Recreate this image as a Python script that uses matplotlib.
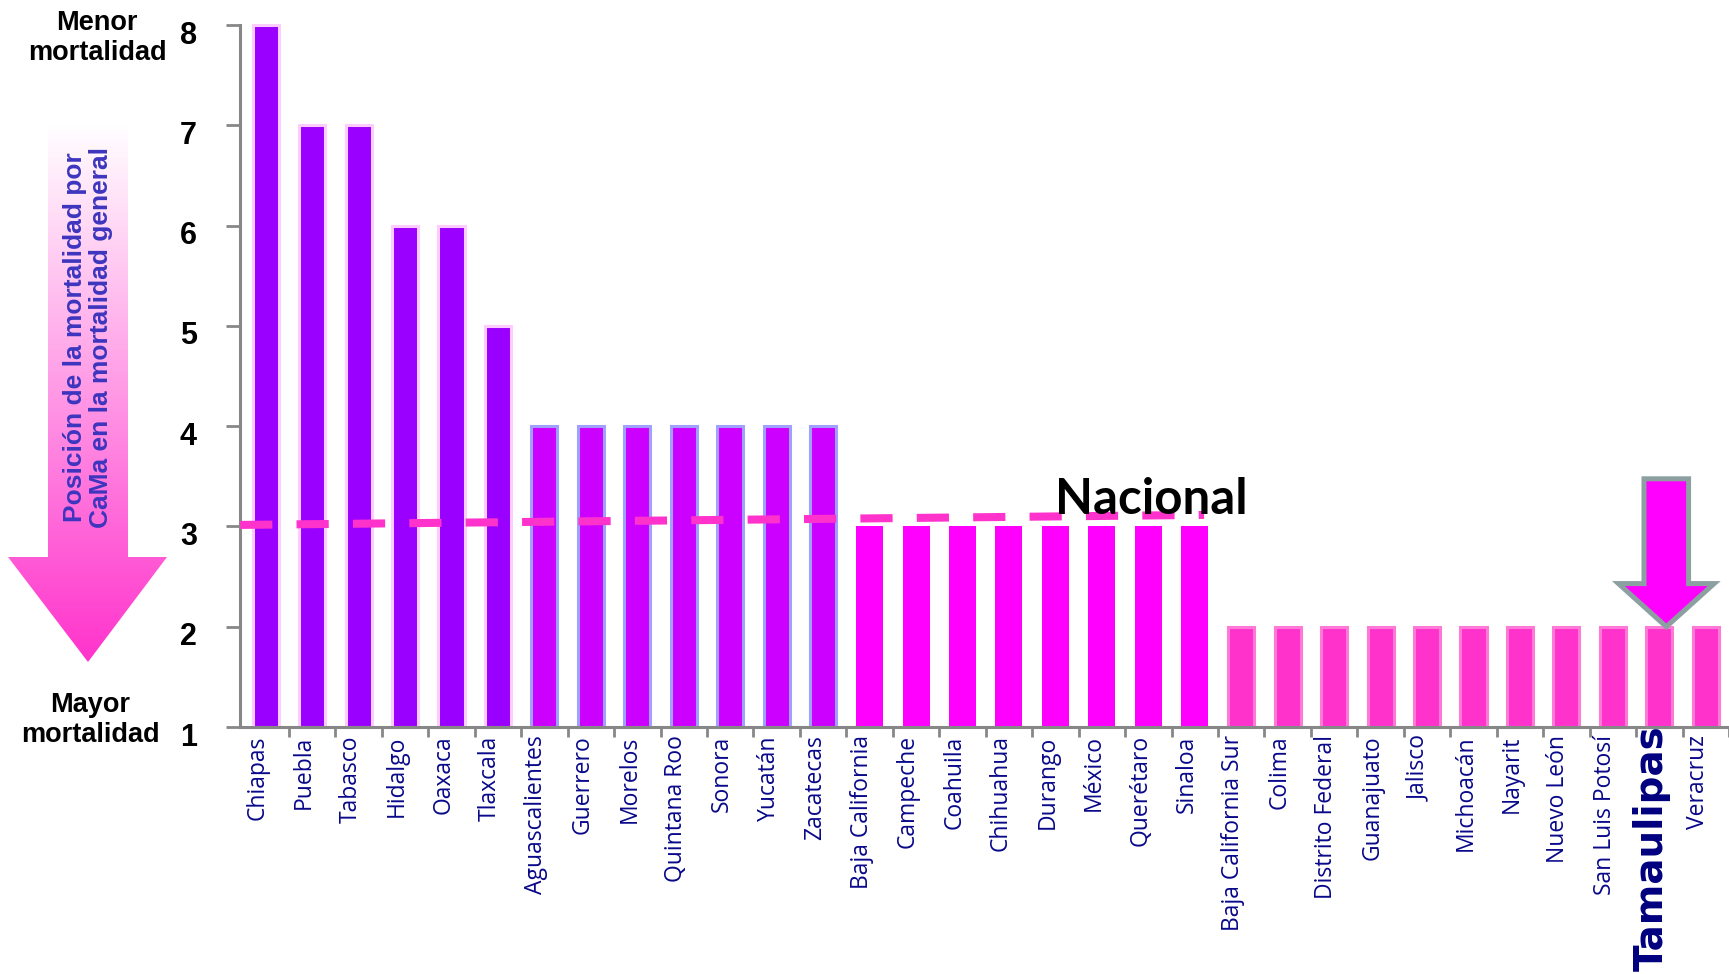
import numpy as np
import matplotlib.pyplot as plt
from matplotlib.colors import LinearSegmentedColormap
from matplotlib.patches import Polygon
from matplotlib.transforms import ScaledTranslation

# posicion de la mortalidad por CaMa en la mortalidad general, por entidad
estados = ["Chiapas", "Puebla", "Tabasco", "Hidalgo", "Oaxaca", "Tlaxcala",
           "Aguascalientes", "Guerrero", "Morelos", "Quintana Roo", "Sonora",
           "Yucatán", "Zacatecas", "Baja California", "Campeche", "Coahuila",
           "Chihuahua", "Durango", "México", "Querétaro", "Sinaloa",
           "Baja California Sur", "Colima", "Distrito Federal", "Guanajuato",
           "Jalisco", "Michoacán", "Nayarit", "Nuevo León", "San Luis Potosí",
           "Tamaulipas", "Veracruz"]
posicion = [8, 7, 7, 6, 6, 5,
            4, 4, 4, 4, 4, 4, 4,
            3, 3, 3, 3, 3, 3, 3, 3,
            2, 2, 2, 2, 2, 2, 2, 2, 2, 2, 2]
# linea nacional (inicio en el eje, fin en Sinaloa)
nacional_x = [-0.55, 20.2]
nacional_y = [3.015, 3.115]
destacado = "Tamaulipas"

W, H = 1729, 974
GRIS = "#878787"
AZUL = "#08088A"

# relleno / borde segun la posicion
estilo = {8: ("#9900FF", "#FFCCFF"), 7: ("#9900FF", "#FFCCFF"),
          6: ("#9900FF", "#FFCCFF"), 5: ("#9900FF", "#FFCCFF"),
          4: ("#CC00FF", "#9FA0FF"), 3: ("#FF00FF", "#FF00FF"),
          2: ("#FF33CC", "#FF7AD6")}

fig = plt.figure(figsize=(W / 100, H / 100), dpi=100)

# capa de decoracion en pixeles (flecha degradada y textos laterales)
deco = fig.add_axes([0, 0, 1, 1], zorder=0)
pts = [(48, 124), (128, 124), (128, 557), (167, 557), (88, 662), (8, 557), (48, 557)]
flecha = Polygon(pts, closed=True, facecolor="none", edgecolor="none")
deco.add_patch(flecha)
cmap = LinearSegmentedColormap.from_list("grad", ["#FFFFFF", "#FF33CC"])
im = deco.imshow(np.linspace(0, 1, 256)[:, None], cmap=cmap, aspect="auto",
                 extent=(8, 167, 662, 124))
im.set_clip_path(flecha)
deco.set_xlim(0, W)
deco.set_ylim(H, 0)
deco.axis("off")

deco.text(88, 337, "Posición de la mortalidad por\nCaMa en la mortalidad general",
          rotation=90, ha="center", va="center", multialignment="center",
          color="#3D35BE", fontsize=19, fontweight="bold",
          family="Liberation Sans", linespacing=1.1)
deco.text(97, 38, "Menor\nmortalidad", ha="center", va="center",
          fontsize=19.5, fontweight="bold", family="Liberation Sans", linespacing=1.25)
deco.text(90, 720, "Mayor\nmortalidad", ha="center", va="center",
          fontsize=19.5, fontweight="bold", family="Liberation Sans", linespacing=1.15)

# grafica principal
ax = fig.add_axes([240 / W, 1 - 727 / H, 1 - 240 / W, (727 - 25) / H], zorder=1)
ax.set_facecolor("none")
x = np.arange(len(estados))
base = 1
for xi, v in zip(x, posicion):
    fill, edge = estilo[v]
    if v == 3:
        ax.bar(xi, v - base, bottom=base, width=0.58, color=fill, linewidth=0,
               clip_on=False, zorder=2)
    else:
        ax.bar(xi, v - base, bottom=base, width=0.56, color=fill, edgecolor=edge,
               linewidth=2.2, clip_on=False, zorder=2)

ax.plot(nacional_x, nacional_y, color="#FF33CC", linewidth=5.8,
        linestyle=(0, (4.0, 3.0)), dash_capstyle="butt", zorder=3)
ax.text(17.0, 3.125, "Nacional", fontsize=35.5, fontweight="bold",
        family="Lato", ha="left", va="baseline", zorder=4)

# flecha sobre la entidad destacada
i = estados.index(destacado)
v = posicion[i]
cx = i + 0.15
forma = [(cx - 0.48, v + 1.475), (cx + 0.48, v + 1.475), (cx + 0.48, v + 0.43),
         (cx + 1.03, v + 0.43), (cx, v), (cx - 1.03, v + 0.43), (cx - 0.48, v + 0.43)]
ax.add_patch(Polygon(forma, closed=True, facecolor="#FF00FF", edgecolor="#8C9FA1",
                     linewidth=3.6, joinstyle="miter", clip_on=False, zorder=5))

ax.set_xlim(-0.553, 31.27)
ax.set_ylim(1, 8)
ax.set_yticks(range(1, 9))
ax.set_xticks(x)
ax.set_xticklabels(estados, rotation=90, fontsize=16.5, color=AZUL, family="Open Sans")
ax.set_xticks(np.arange(0.5, len(estados), 1), minor=True)
ax.tick_params(axis="x", which="major", length=0, pad=6)
ax.tick_params(axis="x", which="minor", length=7, width=2, color=GRIS, direction="out")
ax.tick_params(axis="y", length=10, width=2, color=GRIS, direction="out", pad=21,
               labelsize=22)
for lab in ax.get_yticklabels():
    lab.set_fontweight("bold")
    lab.set_family("Liberation Sans")
    lab.set_transform(lab.get_transform() + ScaledTranslation(0, -0.07, fig.dpi_scale_trans))
for lab in ax.get_xticklabels():
    lab.set_transform(lab.get_transform() + ScaledTranslation(-0.08, 0, fig.dpi_scale_trans))
    if lab.get_text() == destacado:
        lab.set_fontsize(28)
        lab.set_fontweight("bold")
        lab.set_family("DejaVu Sans")
        lab.set_color("#000080")
        lab.set_transform(lab.get_transform() + ScaledTranslation(0, 0.1, fig.dpi_scale_trans))

for s in ("top", "right"):
    ax.spines[s].set_visible(False)
for s in ("left", "bottom"):
    ax.spines[s].set_color(GRIS)
    ax.spines[s].set_linewidth(2.2)

fig.savefig("out.png", dpi=100)
